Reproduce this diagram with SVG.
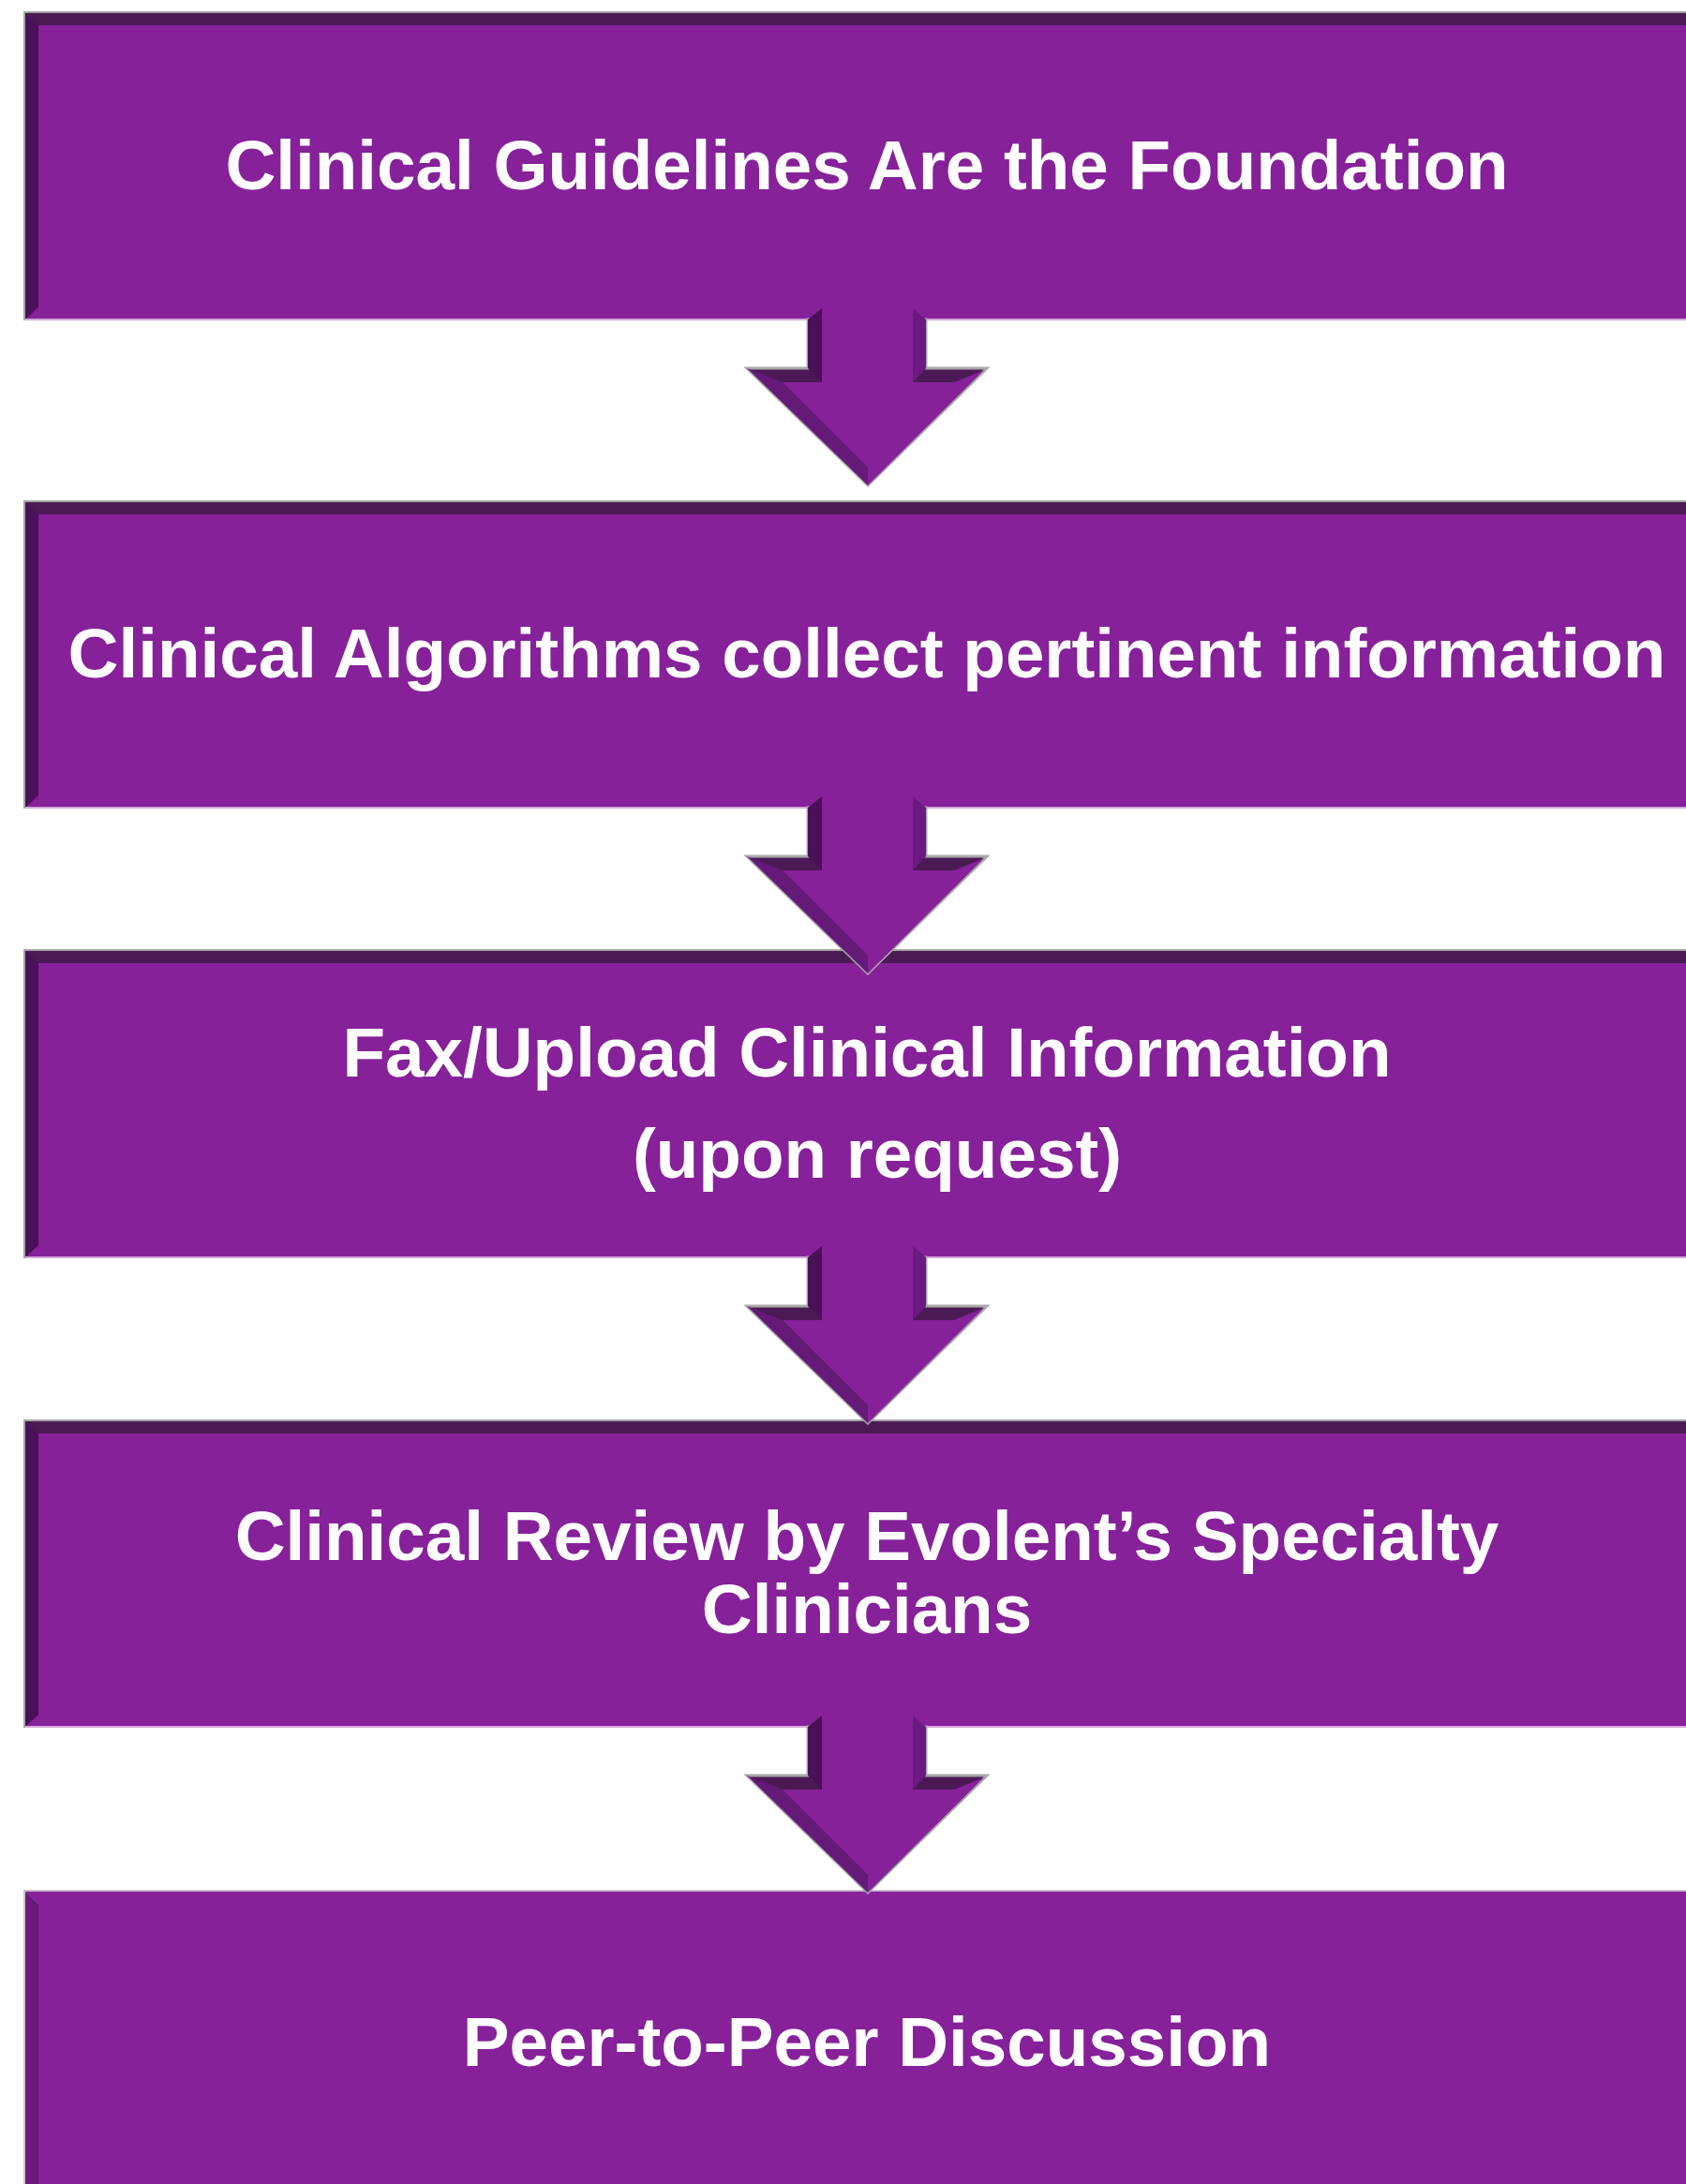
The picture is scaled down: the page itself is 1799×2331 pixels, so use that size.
<svg xmlns="http://www.w3.org/2000/svg" xmlns:xlink="http://www.w3.org/1999/xlink" width="1799" height="2331" viewBox="0 0 1799 2331">
<style>
.outline{fill:#a4a4a4}
.band{fill:#4b1a55}
.lbev{fill:#4a1058}
.lbev5{fill:#6b1a80}
.face{fill:#86219a}
.edge{stroke:#d4a6dc;stroke-width:2}
.lbl{font-family:"Liberation Sans",Arial,Helvetica,sans-serif;font-weight:bold;font-size:74.6px;fill:#ffffff;text-anchor:middle}
</style>
<defs>
<g id="arrowShape">
<polygon points="862,0 988,0 988,52 1053,52 926,177 797,52 862,52" fill="#4b1a55" stroke="#a8a8a8" stroke-width="3" stroke-linejoin="miter"/>
<polygon points="862,0 877,-12 877,67 862,52" fill="#4a1058"/>
<polygon points="974,-12 988,0 988,52 974,67" fill="#6a1a80"/>
<polygon points="797,52 835,67 926,158 926,177" fill="#651a78"/>
<polygon points="877,-12 974,-12 974,67 1018,67 1050,54 926,177 926,158 835,67 877,67" fill="#86219a"/>
</g>
</defs>
<rect width="1799" height="2331" fill="#ffffff"/>

<g id="node1">
<rect class="outline" x="25" y="12" width="1800" height="330"/>
<rect class="band" x="27" y="14" width="1800" height="327"/>
<polygon class="lbev" points="27,14 41,27 41,328 27,341"/>
<polygon class="face" points="41,27 1799,27 1799,341 27,341 41,328"/>
<line class="edge" x1="27" y1="341" x2="1799" y2="341"/>
<text class="lbl" x="925" y="202">Clinical Guidelines Are the Foundation</text>
</g>

<g id="node2">
<rect class="outline" x="25" y="534" width="1800" height="329"/>
<rect class="band" x="27" y="536" width="1800" height="326"/>
<polygon class="lbev" points="27,536 41,549 41,849 27,862"/>
<polygon class="face" points="41,549 1799,549 1799,862 27,862 41,849"/>
<line class="edge" x1="27" y1="862" x2="1799" y2="862"/>
<text class="lbl" x="925" y="723">Clinical Algorithms collect pertinent information</text>
</g>

<g id="node3">
<rect class="outline" x="25" y="1013" width="1800" height="330"/>
<rect class="band" x="27" y="1015" width="1800" height="327"/>
<polygon class="lbev" points="27,1015 41,1028 41,1329 27,1342"/>
<polygon class="face" points="41,1028 1799,1028 1799,1342 27,1342 41,1329"/>
<line class="edge" x1="27" y1="1342" x2="1799" y2="1342"/>
<text class="lbl" x="925" y="1149">Fax/Upload Clinical Information</text>
<text class="lbl" x="936" y="1257">(upon request)</text>
</g>

<g id="node4">
<rect class="outline" x="25" y="1515" width="1800" height="329"/>
<rect class="band" x="27" y="1517" width="1800" height="326"/>
<polygon class="lbev" points="27,1517 41,1530 41,1830 27,1843"/>
<polygon class="face" points="41,1530 1799,1530 1799,1843 27,1843 41,1830"/>
<line class="edge" x1="27" y1="1843" x2="1799" y2="1843"/>
<text class="lbl" x="925" y="1665">Clinical Review by Evolent’s Specialty</text>
<text class="lbl" x="925" y="1743">Clinicians</text>
</g>

<g id="node5">
<rect x="25" y="2017" width="1800" height="320" fill="#c8c8c8"/>
<rect x="27" y="2018" width="1800" height="320" fill="#c9a0d2"/>
<polygon class="lbev5" points="27,2019 41,2032 41,2331 27,2331"/>
<polygon class="face" points="27,2019 1799,2019 1799,2331 41,2331 41,2032"/>
<text class="lbl" x="925" y="2205">Peer-to-Peer Discussion</text>
</g>

<g id="connectors">
<use xlink:href="#arrowShape" transform="translate(0,341)"/>
<use xlink:href="#arrowShape" transform="translate(0,862)"/>
<use xlink:href="#arrowShape" transform="translate(0,1342)"/>
<use xlink:href="#arrowShape" transform="translate(0,1843)"/>
</g>
</svg>
